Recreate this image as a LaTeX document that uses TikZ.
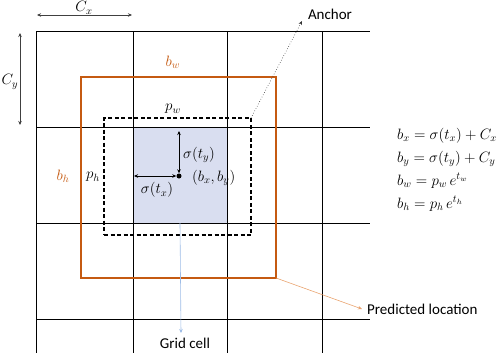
\RequirePackage{fix-cm}
\documentclass[tikz,border=0pt]{standalone}
\usepackage{amsmath}
\usepackage{fontspec}
\setmainfont{Carlito}
\usepackage{tikz}
\usepackage{xcolor}
\usetikzlibrary{arrows.meta, positioning, calc}

\definecolor{predorange}{HTML}{C55A11}
\definecolor{predlight}{HTML}{E9A36F}
\definecolor{cellblue}{HTML}{D9DEF0}
\definecolor{linkblue}{HTML}{5B8FD5}

\begin{document}
\begin{tikzpicture}[
  x=1pt, y=-1pt,
  every node/.style={font=\fontsize{15}{17}\selectfont, inner sep=1pt},
  gridline/.style={draw=black, line width=0.8pt},
  cellfill/.style={fill=cellblue, draw=none, minimum width=94pt, minimum height=96pt, inner sep=0},
  predbox/.style={draw=predorange, line width=1.6pt, outer sep=0, inner sep=0},
  anchorbox/.style={draw=black, line width=1.6pt, dash pattern=on 4pt off 2.5pt, outer sep=0, inner sep=0},
  sizearrow/.style={draw=black!75, line width=0.6pt, {Stealth[length=4pt,width=3.5pt]}-{Stealth[length=4pt,width=3.5pt]}},
  offarrow/.style={draw=black, line width=0.6pt, {Stealth[length=4pt,width=3.5pt]}-{Stealth[length=4pt,width=3.5pt]}},
]
\useasboundingbox (0,0) rectangle (498,356);

% --- highlighted grid cell ---
\node[cellfill] (cell) at (180,175) {};

% --- grid ---
\foreach \gx in {36,133,227,322}
  \draw[gridline] (\gx,31) -- (\gx,353);
\foreach \gy in {31,127,223,319}
  \draw[gridline] (36,\gy) -- (370,\gy);

% --- cell size ---
\coordinate (cxleft) at (37,15);
\coordinate (cxright) at (132,15);
\draw[sizearrow] (cxleft) -- (cxright);
\node (cxlbl) at (84,8) {$C_x$};
\coordinate (cytop) at (20,33);
\coordinate (cybot) at (20,125);
\draw[sizearrow] (cytop) -- (cybot);
\node (cylbl) at (10,82) {$C_y$};

% --- predicted box and anchor box ---
\node[predbox, minimum width=195pt, minimum height=201pt, anchor=north west] (pred) at (81,77) {};
\node[anchorbox, minimum width=147pt, minimum height=117pt, anchor=north west] (anchor) at (104,118) {};
\node[text=predorange] (bwlbl) at (173,62) {$b_w$};
\node[text=predorange] (bhlbl) at (63,176) {$b_h$};
\node (pwlbl) at (173,109) {$p_w$};
\node (phlbl) at (93,177) {$p_h$};

% --- centre and offsets ---
\node[circle, fill=black, minimum size=5pt, inner sep=0] (centre) at (179,176) {};
\coordinate (ytop) at (179,131);
\coordinate (xleft) at (134,176);
\draw[offarrow] (ytop) -- (centre);
\draw[offarrow] (xleft) -- (centre);
\node[anchor=west] (tylbl) at (182,155) {$\sigma(t_y)$};
\node (txlbl) at (157,190) {$\sigma(t_x)$};
\node[anchor=west] (bxylbl) at (191,178) {$(b_x, b_y)$};

% --- callouts ---
\node (anchorlbl) at (330,14) {Anchor};
\coordinate (anchortip) at (302,21);
\draw[black!80, line width=0.6pt, dotted, -{Stealth[length=4pt,width=3.5pt]}] (anchor.north east) -- (anchortip);
\node[anchor=west] (predlbl) at (366,309) {Predicted location};
\coordinate (predtip) at (362,309);
\draw[predlight, line width=0.6pt, -{Stealth[length=4pt,width=3.5pt,fill=predorange]}] (pred.south east) -- (predtip);
\node (celllbl) at (185,343) {Grid cell};
\coordinate (celltip) at (181,333);
\draw[linkblue!60, line width=0.6pt, -{Stealth[length=4pt,width=3.5pt,fill=linkblue]}] (cell.south) -- (celltip);

% --- equations ---
\foreach \eqn [count=\k] in {
  {$b_x = \sigma(t_x) + C_x$},
  {$b_y = \sigma(t_y) + C_y$},
  {$b_w = p_w\, e^{t_w}$},
  {$b_h = p_h\, e^{t_h}$}}
{
  \node[anchor=base west] (eq\k) at (396,116+23*\k) {\eqn};
}

\end{tikzpicture}
\end{document}
